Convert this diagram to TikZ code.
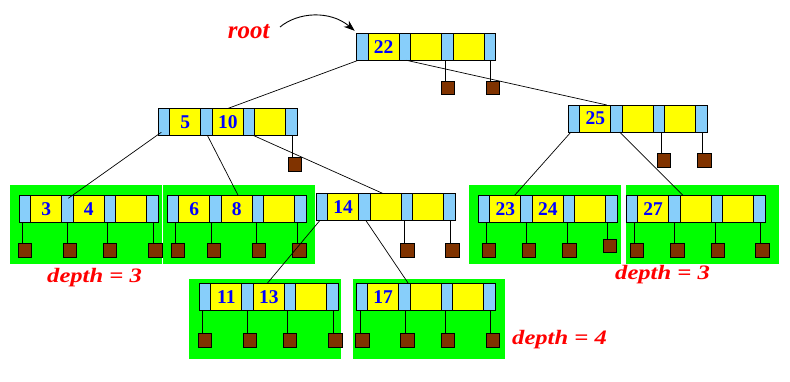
\documentclass[tikz,border=0pt]{standalone}
\usepackage{fontspec}
\setmainfont{Liberation Serif}
\usetikzlibrary{arrows.meta,calc}
\definecolor{ptrblue}{RGB}{135,206,250}
\definecolor{keyyel}{RGB}{255,255,0}
\definecolor{panelgreen}{RGB}{0,255,0}
\definecolor{leafbrown}{RGB}{128,51,0}
\tikzset{
 pbox/.style={draw=black, line width=0.9pt, fill=ptrblue, minimum width=11.5pt, minimum height=27pt, inner sep=0pt, outer sep=0pt, anchor=north west},
 kbox/.style={pbox, fill=keyyel, minimum width=31pt, font=\bfseries\fontsize{19.5}{20}\selectfont, text=blue},
 leafbox/.style={draw=black, line width=0.9pt, fill=leafbrown, minimum size=13.5pt, inner sep=0pt, outer sep=0pt},
 panel/.style={fill=panelgreen, draw=none},
 stem/.style={line width=0.9pt},
 link/.style={line width=0.7pt},
 lbl/.style={text=red, font=\bfseries\itshape\fontsize{20.5}{22}\selectfont, anchor=base west, inner sep=0pt},
}
\newcommand\btnode[6]{%
 \node[pbox] (#1-p0) at (#2,#3) {};
 \node[kbox] (#1-k1) at (#1-p0.north east) {#4};
 \node[pbox] (#1-p1) at (#1-k1.north east) {};
 \node[kbox] (#1-k2) at (#1-p1.north east) {#5};
 \node[pbox] (#1-p2) at (#1-k2.north east) {};
 \node[kbox] (#1-k3) at (#1-p2.north east) {#6};
 \node[pbox] (#1-p3) at (#1-k3.north east) {};
}
\newcommand\leafat[4]{%
 \node[leafbox] (#1) at (#2,#3) {};
 \draw[stem] ($(#1.north)+(-2.3,0)$) -- ($(#1.north |- #4-p0.south)+(-2.3,0)$);
}
\begin{document}
\begin{tikzpicture}[x=1pt,y=-1pt]
\useasboundingbox (0,0) rectangle (790,381);
% green panels
\fill[panel] (10,185) rectangle (161.7,264.3);
\fill[panel] (163.3,185) rectangle (315,264.3);
\fill[panel] (469,185) rectangle (621,264.3);
\fill[panel] (626,185) rectangle (779,264.3);
\fill[panel] (189,279) rectangle (341,359.3);
\fill[panel] (353.3,279) rectangle (505,358.7);
% nodes
\btnode{R}{356.7}{33.3}{22}{}{}
\btnode{A}{158.3}{108.3}{5}{10}{}
\btnode{B}{568.3}{105}{25}{}{}
\btnode{C}{19.3}{195.7}{3}{4}{}
\btnode{D}{167.3}{195.7}{6}{8}{}
\btnode{E}{316}{193.3}{14}{}{}
\btnode{F}{478.3}{195.7}{23}{24}{}
\btnode{G}{626}{195.7}{27}{}{}
\btnode{H}{199.3}{283.3}{11}{13}{}
\btnode{I}{356}{283.3}{17}{}{}
% leaves
\leafat{R3}{448}{88}{R}
\leafat{R4}{493}{88}{R}
\leafat{A4}{295}{164.3}{A}
\leafat{B3}{664}{160.3}{B}
\leafat{B4}{704.5}{160.3}{B}
\leafat{E3}{407.2}{250.3}{E}
\leafat{E4}{452.3}{250.3}{E}
\leafat{C1}{25}{250.3}{C}
\leafat{C2}{70}{250.3}{C}
\leafat{C3}{110}{250.3}{C}
\leafat{C4}{155.5}{250.3}{C}
\leafat{D1}{178}{250.3}{D}
\leafat{D2}{213.7}{250.3}{D}
\leafat{D3}{259}{250.3}{D}
\leafat{D4}{299.5}{250.3}{D}
\leafat{F1}{488.7}{250.3}{F}
\leafat{F2}{529}{250.3}{F}
\leafat{F3}{569.5}{250.3}{F}
\leafat{F4}{610}{246}{F}
\leafat{G1}{636.7}{250.3}{G}
\leafat{G2}{677.2}{250.3}{G}
\leafat{G3}{718}{250.3}{G}
\leafat{G4}{762.5}{250.3}{G}
\leafat{H1}{205}{340.3}{H}
\leafat{H2}{250}{340.3}{H}
\leafat{H3}{290}{340.3}{H}
\leafat{H4}{335.5}{340.3}{H}
\leafat{I1}{362.5}{340.3}{I}
\leafat{I2}{407.5}{340.3}{I}
\leafat{I3}{447.7}{340.3}{I}
\leafat{I4}{492.7}{340.3}{I}
% child links
\draw[link] ([xshift=1.5pt]R-p0.south west) -- ([xshift=16pt]A-k2.north west);
\draw[link] ([xshift=1.5pt]R-p1.south) -- ([xshift=-4pt]B-k1.north east);
\draw[link] ([xshift=3pt,yshift=3pt]A-p0.south west) -- ([xshift=6.5pt,yshift=-2.6pt]C-p1.north west);
\draw[link] ([xshift=0.8pt]A-p1.south) -- ([xshift=1.5pt]D-k2.north);
\draw[link] ([xshift=4pt]A-p2.south) -- ([xshift=-3pt]E-k2.north);
\draw[link] ([xshift=2.7pt]B-p0.south west) -- ([xshift=9pt]F-k1.north);
\draw[link] ([xshift=3pt]B-p1.south) -- ([xshift=3.3pt]G-k2.north west);
\draw[link] ([xshift=4pt]E-p0.south west) -- ([xshift=14pt]H-k2.north west);
\draw[link] ([xshift=1.5pt]E-p1.south) -- ([xshift=4pt]I-p1.north);
% labels
\node[lbl, font=\bfseries\itshape\fontsize{25}{26}\selectfont] (rootlbl) at (227.7,38.3) {root};
\coordinate (rootarc) at (280,27);
\draw[line width=0.9pt, -{Stealth[length=11pt,width=8pt]}] (rootarc) .. controls (298,12) and (330,10) .. ([xshift=-2pt,yshift=2.5pt]R-p0.north west);
\node[lbl] (depthC) at (47,282.7) {\scalebox{1.2}[1]{depth = 3}};
\node[lbl] (depthG) at (615,279) {\scalebox{1.2}[1]{depth = 3}};
\node[lbl] (depthI) at (512,344.3) {\scalebox{1.2}[1]{depth = 4}};
\end{tikzpicture}
\end{document}
